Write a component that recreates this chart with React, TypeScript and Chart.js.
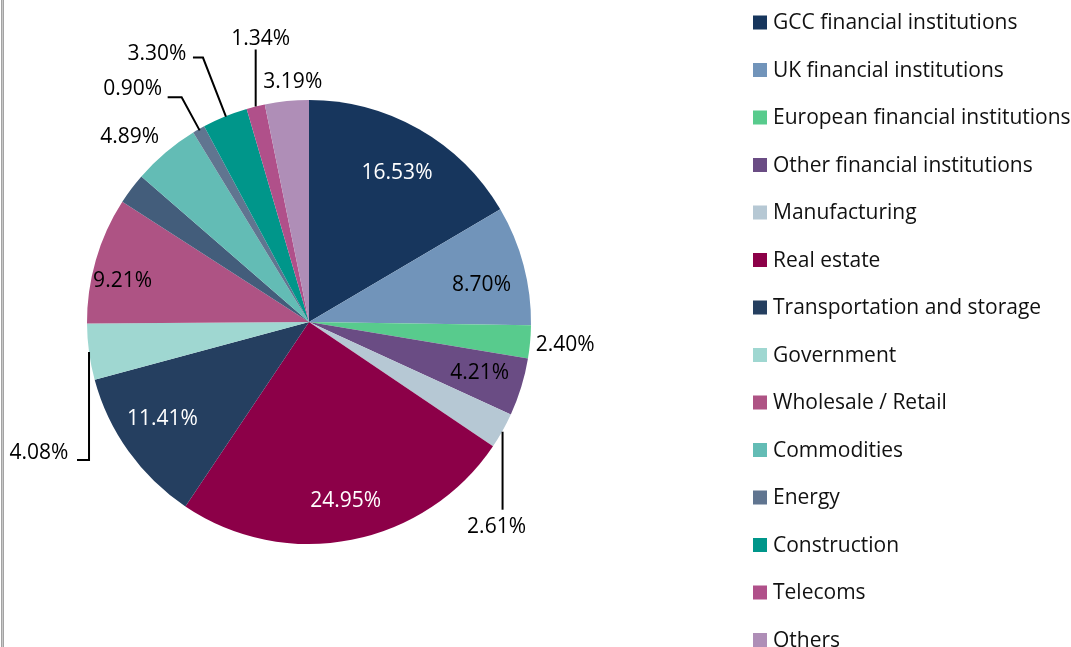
import React, { useEffect, useRef } from "react";
import { Chart, registerables } from "chart.js";

Chart.register(...registerables);

const CATEGORIES = [
  "GCC financial institutions",
  "UK financial institutions",
  "European financial institutions",
  "Other financial institutions",
  "Manufacturing",
  "Real estate",
  "Transportation and storage",
  "Government",
  "Wholesale / Retail",
  "",
  "Commodities",
  "Energy",
  "Construction",
  "Telecoms",
  "Others",
];

const VALUES = [16.53, 8.7, 2.4, 4.21, 2.61, 24.95, 11.41, 4.08, 9.21, 2.28, 4.89, 0.9, 3.3, 1.34, 3.19];

const COLORS = [
  "#17365D",
  "#7194BA",
  "#58CB8D",
  "#6A4C84",
  "#B6C8D4",
  "#8C0048",
  "#253F60",
  "#9FD7D1",
  "#AE5384",
  "#435D7B",
  "#63BCB5",
  "#607590",
  "#00968A",
  "#B0508A",
  "#AF8EB7",
];

const LABEL_COLORS = ["#fff", "#000", "#000", "#000", "#000", "#fff", "#fff", "#000", "#000", "", "#000", "#000", "#000", "#000", "#000"];

type Layout =
  | { mode: "in"; dx: number; dy: number }
  | { mode: "out"; dx: number; dy: number }
  | { mode: "leader"; path: number[][]; dx: number; dy: number }
  | { mode: "none" };

const LABEL_LAYOUT: Layout[] = [
  { mode: "in", dx: 1, dy: 3 },
  { mode: "in", dx: 3, dy: 8 },
  { mode: "out", dx: 35, dy: 3 },
  { mode: "in", dx: 3, dy: 0 },
  { mode: "leader", path: [[0, 1], [0, 79]], dx: -6, dy: 96 },
  { mode: "in", dx: 3, dy: 7 },
  { mode: "in", dx: -4, dy: -5 },
  { mode: "leader", path: [[0, 0], [0, 108], [-12, 108]], dx: -50, dy: 101 },
  { mode: "in", dx: -18, dy: 8 },
  { mode: "none" },
  { mode: "out", dx: -36, dy: -15 },
  { mode: "leader", path: [[1, 1], [-17, -32], [-31, -32]], dx: -66, dy: -40 },
  { mode: "leader", path: [[1, 0], [-22, -59], [-32, -59]], dx: -68, dy: -63 },
  { mode: "leader", path: [[0, 0], [0, -57]], dx: 5, dy: -67 },
  { mode: "out", dx: 6, dy: -19 },
];

const LABEL_FONT = "21px 'Open Sans'";
const LEGEND_FONT = "21px 'Open Sans'";

const overlayPlugin = {
  id: "overlay",
  afterDraw(chart: any) {
    const ctx = chart.ctx as CanvasRenderingContext2D;
    const meta = chart.getDatasetMeta(0);
    ctx.save();
    // left frame line
    ctx.fillStyle = "#a3a3a3";
    ctx.fillRect(1, 0, 3, chart.height);
    ctx.fillStyle = "#c8c8c8";
    ctx.fillRect(2, 0, 1, chart.height);

    ctx.font = LABEL_FONT;
    ctx.textAlign = "center";
    ctx.textBaseline = "middle";
    meta.data.forEach((arc: any, i: number) => {
      const lay = LABEL_LAYOUT[i];
      if (!lay || lay.mode === "none") return;
      const p = arc.getProps(["x", "y", "startAngle", "endAngle", "outerRadius"], true);
      const mid = (p.startAngle + p.endAngle) / 2;
      const R = p.outerRadius;
      const text = VALUES[i].toFixed(2) + "%";
      let ax: number, ay: number;
      if (lay.mode === "in") {
        ax = p.x + Math.cos(mid) * R * 0.79;
        ay = p.y + Math.sin(mid) * R * 0.79;
      } else {
        ax = p.x + Math.cos(mid) * R;
        ay = p.y + Math.sin(mid) * R;
      }
      if (lay.mode === "leader") {
        ctx.strokeStyle = "#000";
        ctx.lineWidth = 2;
        ctx.beginPath();
        lay.path.forEach((pt, k) => {
          if (k === 0) ctx.moveTo(ax + pt[0], ay + pt[1]);
          else ctx.lineTo(ax + pt[0], ay + pt[1]);
        });
        ctx.stroke();
      }
      ctx.fillStyle = LABEL_COLORS[i];
      ctx.fillText(text, ax + lay.dx, ay + lay.dy);
    });

    // legend
    ctx.font = LEGEND_FONT;
    ctx.textAlign = "left";
    ctx.textBaseline = "middle";
    let row = 0;
    CATEGORIES.forEach((name, i) => {
      if (!name) return;
      const cy = 22.5 + row * 47.5;
      ctx.fillStyle = COLORS[i];
      ctx.fillRect(753, cy - 7, 14, 14);
      ctx.fillStyle = "#111";
      ctx.fillText(name, 773, cy + 1);
      row++;
    });
    ctx.restore();
  },
};

export default function App() {
  const ref = useRef<HTMLCanvasElement | null>(null);
  useEffect(() => {
    if (!ref.current) return;
    const chart = new Chart(ref.current, {
      type: "pie",
      data: {
        labels: CATEGORIES,
        datasets: [
          {
            data: VALUES,
            backgroundColor: COLORS,
            borderWidth: 0,
          },
        ],
      },
      options: {
        responsive: false,
        animation: false,
        layout: { padding: { left: 87, right: 540, top: 100, bottom: 103 } },
        plugins: {
          legend: { display: false },
          tooltip: { enabled: false },
        },
      },
      plugins: [overlayPlugin],
    });
    return () => chart.destroy();
  }, []);
  return (
    <div style={{ position: "fixed", left: 0, top: 0, width: 1071, height: 647, overflow: "hidden", background: "#fff" }}>
      <canvas ref={ref} width={1071} height={647} style={{ display: "block" }} />
    </div>
  );
}
